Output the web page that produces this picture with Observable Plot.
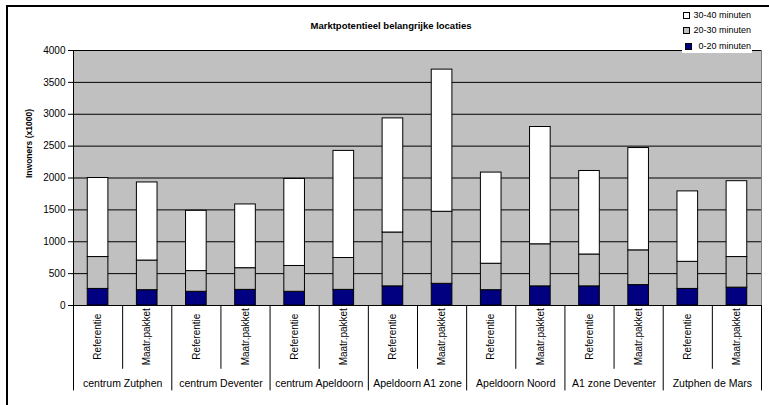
<!DOCTYPE html>
<html>
<head>
<meta charset="utf-8">
<script src="https://cdn.jsdelivr.net/npm/d3@7"></script>
<script src="https://cdn.jsdelivr.net/npm/@observablehq/plot@0.6"></script>
<style>
  html, body { margin: 0; padding: 0; background: #fff; overflow: hidden; }
  #wrap { position: relative; width: 769px; height: 405px; font-family: "Liberation Sans", Arial, sans-serif; }
  #border { position: absolute; left: 6px; top: 5px; width: 780px; height: 420px; border: 2px solid #000; box-sizing: border-box; pointer-events: none; }
  #title { position: absolute; left: 0; width: 782px; top: 20px; text-align: center; font-weight: bold; font-size: 9.5px; color: #000; }
  #legend { position: absolute; left: 682px; top: 7px; width: 70px; height: 46px; background: #fff; }
  .li { position: absolute; right: 1px; font-size: 9px; color: #000; white-space: nowrap; }
  .sw { position: absolute; width: 5px; height: 5px; border: 1px solid #000; }
  #chart { position: absolute; left: 0; top: 0; }
</style>
</head>
<body>
<div id="wrap">
  <div id="chart"></div>
  <div id="legend"></div>
  <div id="title"></div>
  <div id="border"></div>
</div>
<script>
const title = "Marktpotentieel belangrijke locaties";
const yLabel = "Inwoners (x1000)";
const groups = ["centrum Zutphen", "centrum Deventer", "centrum Apeldoorn", "Apeldoorn A1 zone", "Apeldoorn Noord", "A1 zone Deventer", "Zutphen de Mars"];
const variants = ["Referentie", "Maatr.pakket"];
const seriesNames = ["0-20 minuten", "20-30 minuten", "30-40 minuten"];
const seriesColors = ["#000080", "#c0c0c0", "#ffffff"];
// values per bar (group x variant), in order
const v0_20  = [260, 240, 215, 245, 215, 245, 300, 340, 240, 300, 300, 320, 260, 280];
const v20_30 = [500, 465, 325, 340, 405, 500, 845, 1130, 415, 660, 500, 545, 425, 480];
const v30_40 = [1240, 1225, 945, 1000, 1365, 1680, 1790, 2230, 1430, 1840, 1310, 1605, 1105, 1190];
const yTicks = [0, 500, 1000, 1500, 2000, 2500, 3000, 3500, 4000];

// build table
const seriesVals = [v0_20, v20_30, v30_40];
const bars = [];
const nBars = groups.length * variants.length;
for (let i = 0; i < nBars; i++) {
  let acc = 0;
  seriesVals.forEach((vals, s) => {
    bars.push({i, x1: i + 0.29, x2: i + 0.71, y1: acc, y2: acc + vals[i], series: seriesNames[s], color: seriesColors[s]});
    acc += vals[i];
  });
}
const subLabels = [];
groups.forEach((g, gi) => variants.forEach((v, vi) => subLabels.push({x: gi * variants.length + vi + 0.5, label: v})));
const groupLabels = groups.map((g, gi) => ({x: gi * variants.length + variants.length / 2, label: g}));
const subSeps = d3.range(1, nBars, 2);
const groupSeps = d3.range(0, nBars + 1, 2);

const plot = Plot.plot({
  width: 769,
  height: 405,
  marginLeft: 73,
  marginRight: 8,
  marginTop: 50,
  marginBottom: 100,
  style: {fontFamily: "'Liberation Sans', Arial, sans-serif", color: "#000", background: "transparent"},
  x: {type: "linear", domain: [0, nBars], axis: null},
  y: {domain: [0, 4000], axis: null},
  marks: [
    Plot.frame({fill: "#c0c0c0", stroke: "#808080"}),
    Plot.ruleY(yTicks.slice(1), {stroke: "#000", strokeWidth: 1}),
    Plot.rectY(bars, {x1: "x1", x2: "x2", y1: "y1", y2: "y2", fill: "color", stroke: "#000", strokeWidth: 1}),
    Plot.ruleX([0], {stroke: "#000", strokeWidth: 1}),
    Plot.ruleY([0], {stroke: "#000", strokeWidth: 1}),
    Plot.axisY({ticks: yTicks, tickSize: 5, tickPadding: 3, fontSize: 10, label: null, tickFormat: d => String(d)}),
    Plot.text([yLabel], {frameAnchor: "left", rotate: -90, dx: -44, fontWeight: "bold", fontSize: 8.5}),
    Plot.ruleX(subSeps, {y1: 0, y2: -1000, stroke: "#000", strokeWidth: 1}),
    Plot.ruleX(groupSeps, {y1: 0, y2: -1340, stroke: "#000", strokeWidth: 1}),
    Plot.text(subLabels, {x: "x", y: -490, text: "label", rotate: -90, fontSize: 10}),
    Plot.text(groupLabels, {x: "x", y: -1230, text: "label", fontSize: 10.5})
  ]
});
document.getElementById("chart").appendChild(plot);
document.getElementById("title").textContent = title;

// legend (top to bottom: reverse series order)
const legend = document.getElementById("legend");
const order = [2, 1, 0];
const tops = [3, 18, 34];
order.forEach((s, k) => {
  const sw = document.createElement("div");
  sw.className = "sw";
  sw.style.left = (k === 2 ? 3 : 1) + "px";
  sw.style.top = (tops[k] + 2) + "px";
  sw.style.background = seriesColors[s];
  legend.appendChild(sw);
  const t = document.createElement("div");
  t.className = "li";
  t.style.top = tops[k] + "px";
  t.textContent = seriesNames[s];
  legend.appendChild(t);
});
</script>
</body>
</html>
